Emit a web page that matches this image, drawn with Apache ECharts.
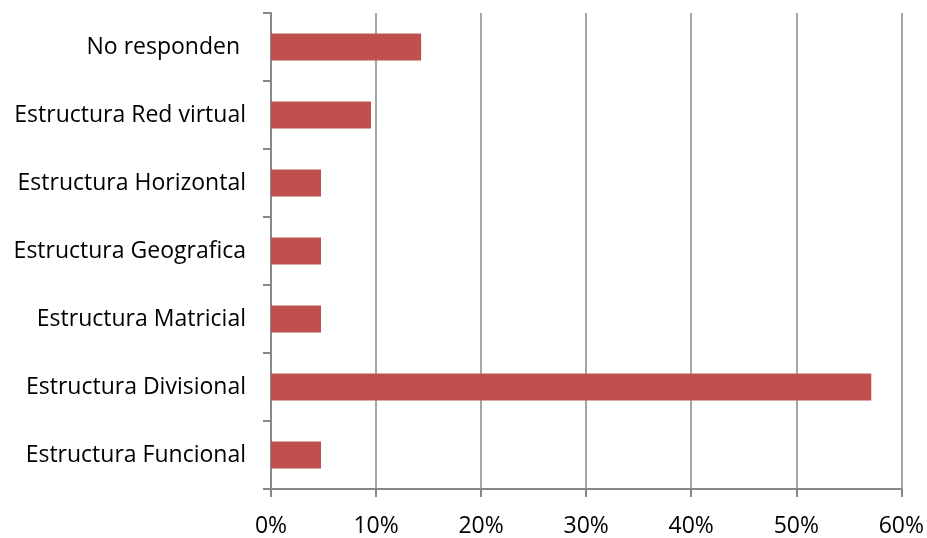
<!DOCTYPE html>
<html><head><meta charset="utf-8">
<script src="https://cdn.jsdelivr.net/npm/echarts@6/dist/echarts.min.js"></script>
<style>html,body{margin:0;padding:0;background:#fff}#c{width:927px;height:538px}</style>
</head><body><div id="c"></div>
<script>
const categories = ["Estructura Funcional","Estructura Divisional","Estructura Matricial","Estructura Geografica","Estructura Horizontal","Estructura Red virtual","No responden "];
const values = [0.0476,0.5714,0.0476,0.0476,0.0476,0.0952,0.1429];
const xTicks = [0,0.1,0.2,0.3,0.4,0.5,0.6];
const chart = echarts.init(document.getElementById('c'));
const font = "'Open Sans', 'Liberation Sans', sans-serif";
chart.setOption({
  animation:false,
  grid:{left:271,right:25,top:13,bottom:46,containLabel:false},
  xAxis:{type:'value',min:xTicks[0],max:xTicks[xTicks.length-1],interval:0.1,
    axisLine:{show:true,lineStyle:{color:'#888',width:2}},
    axisTick:{show:true,length:8,lineStyle:{color:'#888',width:2}},
    splitLine:{show:true,lineStyle:{color:'#888',width:1.5}},
    axisLabel:{color:'#000',fontSize:23,fontFamily:font,margin:26,
      formatter:v=>Math.round(v*100)+'%'}},
  yAxis:{type:'category',data:categories,
    axisLine:{show:true,lineStyle:{color:'#888',width:2}},
    axisTick:{show:true,length:8,lineStyle:{color:'#888',width:2}},
    axisLabel:{color:'#000',fontSize:23,fontFamily:font,margin:25,padding:[5,0,0,0]}},
  series:[{type:'bar',data:values,barCategoryGap:'60%',
    itemStyle:{color:'#C0504D'}}]
});
</script></body></html>
